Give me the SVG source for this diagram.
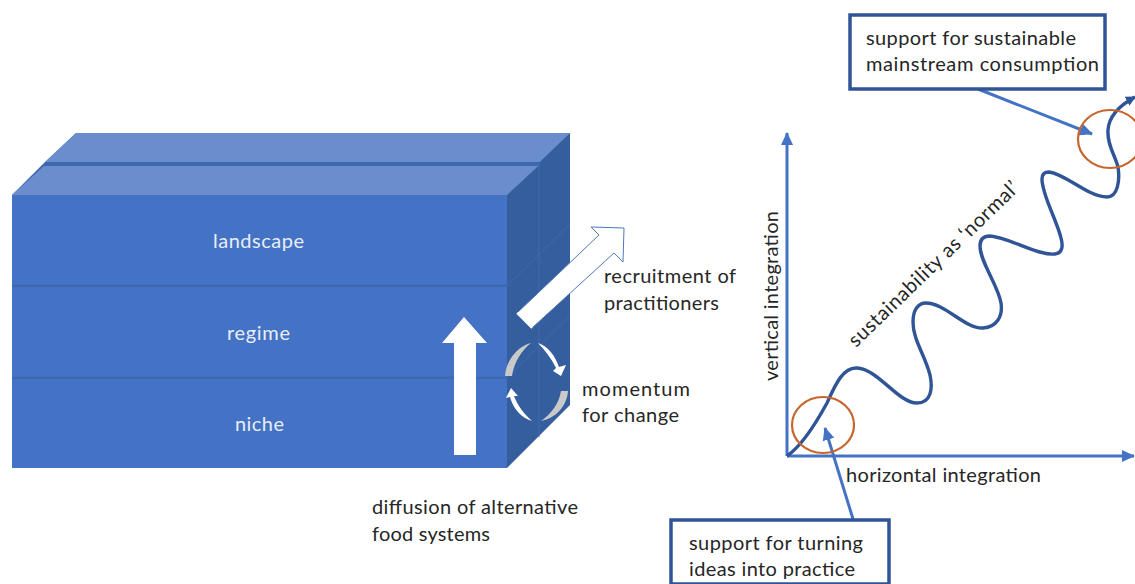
<svg xmlns="http://www.w3.org/2000/svg" width="1135" height="584" viewBox="0 0 1135 584">
<defs>
<marker id="ah" markerUnits="userSpaceOnUse" markerWidth="14" markerHeight="14" refX="12" refY="7" orient="auto"><path d="M0,1 L13,7 L0,13 Z" fill="#4472c4"/></marker>
<marker id="ad" markerUnits="userSpaceOnUse" markerWidth="12" markerHeight="12" refX="9" refY="6" orient="auto"><path d="M0,1 L10,6 L0,11 Z" fill="#2f5597"/></marker>
</defs>
<style>
text{font-family:"Lato","Open Sans","Liberation Sans",sans-serif;font-size:20px;fill:#262626}
.w{fill:#e8eef8}
.front{fill:#4472c4}
.top{fill:#6a8dcd}
.side{fill:#355e9f}
.ax{fill:none;stroke:#4472c4;stroke-width:3}
.box{fill:#fff;stroke:#2f5597;stroke-width:3.5}
.ring{fill:none;stroke:#c8652c;stroke-width:2.2}
</style>
<g id="stack">
<path d="M12,195 L44,163 L76,133 L570,133 L539,165 L507,195 V468 H12 Z" fill="#3f68ae"/>
<path class="top" d="M45,162 L76,133 L570,133 L540,162 Z"/>
<path class="top" d="M12,195 L44,166 L538,166 L507,195 Z"/>
<path class="side" d="M507,195 L539,165 L539,163 L570,133 L570,405 L507,468 Z"/>
<path d="M539,163V437M507,286L570,224M507,378L570,316" fill="none" stroke="#3f6ab0" stroke-width="1"/>
</g>
<g id="landscape"><rect class="front" x="12" y="195" width="495" height="89.5"/><text class="w" x="213" y="248" textLength="91">landscape</text></g>
<g id="regime"><rect class="front" x="12" y="287" width="495" height="89.5"/><text class="w" x="227" y="340" textLength="63">regime</text></g>
<g id="niche"><rect class="front" x="12" y="379" width="495" height="89"/><text class="w" x="235" y="431" textLength="49">niche</text></g>
<g id="cycle">
<path d="M505,376 C506,360 518,346 531,343 C522,350 514,362 512,376 Z" fill="#c9c9c9"/>
<path d="M568,391 C567,406 556,418 541,421 C551,414 559,404 561,391 Z" fill="#c9c9c9"/>
<path d="M538,343 C548,346 555,356 559,367 L566,365 L561,376 L553,371 L556,368 C551,358 545,350 538,343 Z" fill="#fff"/>
<path d="M532,421 C521,418 513,408 510,397 L506,398 L511,388 L518,396 L514,396 C518,406 524,414 532,421 Z" fill="#fff"/>
</g>
<g id="connectors">
<path d="M464,317 L487,343 L476,343 L476,455 L454,455 L454,343 L442,343 Z" fill="#fff"/>
<path d="M517,313 L599,235 L591,227 L624,228 L623,262 L614,253 L532,328 Z" fill="#fff" stroke="#4f78b8" stroke-width="1"/>
<path d="M517,313 L532,328" stroke="#fff" stroke-width="2"/>
<path class="ax" d="M787,456 V133" marker-end="url(#ah)"/>
<path class="ax" d="M787,456 H1134" marker-end="url(#ah)"/>
<path class="ax" d="M978,89 L1092,134" marker-end="url(#ah)"/>
<path class="ax" d="M853,519 L825,428" marker-end="url(#ah)"/>
<path d="M787,456 C800,447 815,425 827,403 C834,388 842,367 857,368 C878,369 898,403 917,403 C931,403 933,389 930,375 C925,355 913,340 913,322 C913,310 918,303 926,303 C945,303 965,329 983,328 C997,327 1003,316 1001,303 C998,285 980,262 980,246 C980,239 984,236 990,236 C1008,237 1038,256 1055,254 C1063,253 1063,245 1061,238 C1056,218 1042,195 1042,179 C1042,174 1045,172 1049,172 C1066,174 1088,197 1107,197 C1118,197 1120,180 1118,167 C1115,155 1107,145 1108,130 C1109,115 1122,104 1135,97" fill="none" stroke="#2f5597" stroke-width="3.4" marker-end="url(#ad)"/>
</g>
<g id="ring-low"><ellipse class="ring" cx="823" cy="425" rx="31" ry="28"/></g>
<g id="ring-high"><ellipse class="ring" cx="1110" cy="139" rx="32" ry="29"/></g>
<g id="label-recruit"><text x="604" y="283" textLength="132">recruitment of</text><text x="604" y="310" textLength="115">practitioners</text></g>
<g id="label-momentum"><text x="582" y="396" textLength="108">momentum</text><text x="582" y="422" textLength="97">for change</text></g>
<g id="label-diffusion"><text x="372" y="514" textLength="206">diffusion of alternative</text><text x="372" y="541" textLength="118">food systems</text></g>
<g id="label-vertical"><text transform="translate(778,381) rotate(-90)" textLength="170">vertical integration</text></g>
<g id="label-horizontal"><text x="846" y="482" textLength="195">horizontal integration</text></g>
<g id="label-normal"><text transform="translate(856,348) rotate(-44)" textLength="228">sustainability as ‘normal’</text></g>
<g id="box-top"><rect class="box" x="850" y="15" width="255" height="74"/><text x="866" y="45" textLength="210">support for sustainable</text><text x="866" y="71" textLength="233">mainstream consumption</text></g>
<g id="box-bottom"><rect class="box" x="671" y="520" width="218" height="64"/><text x="689" y="550" textLength="174">support for turning</text><text x="689" y="576" textLength="166">ideas into practice</text></g>
</svg>
